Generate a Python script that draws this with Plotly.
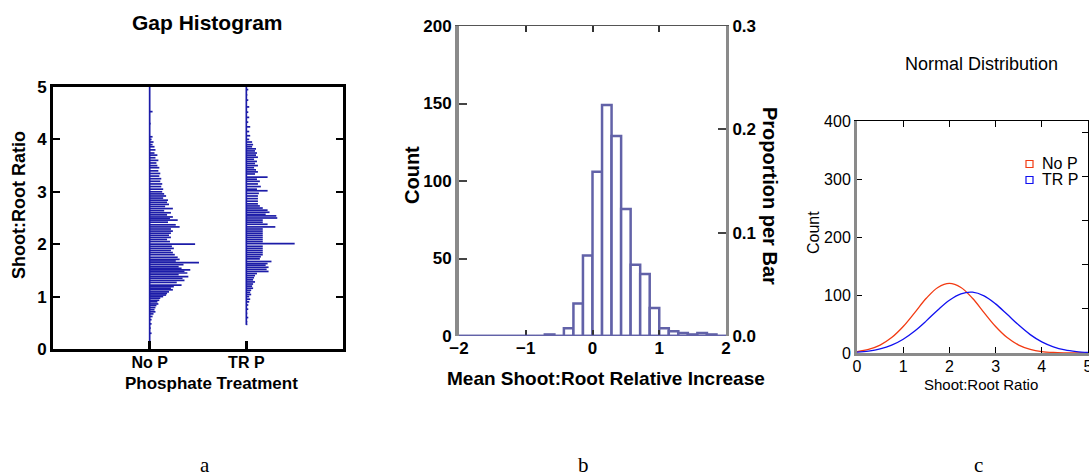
import plotly.graph_objects as go
import numpy as np

W, H = 1089, 476

# ---------------- Panel a: Gap histogram ----------------
groups = ["No P", "TR P"]
group_pos = [1, 2]
spine_lo = [0.10, 0.46]
spine_hi = [5.0, 5.0]

nop_y = [4.53, 4.30, 4.05, 4.00, 3.95, 3.90, 3.86, 3.80, 3.74, 3.70, 3.65, 3.60, 3.55, 3.50,
         3.46, 3.40, 3.35, 3.30, 3.25, 3.20, 3.15, 3.10, 3.05, 3.00, 2.96, 2.92, 2.88, 2.84,
         2.80, 2.76, 2.72, 2.68, 2.64, 2.60, 2.56, 2.52, 2.49, 2.46, 2.42, 2.37, 2.33, 2.29,
         2.25, 2.21, 2.17, 2.13, 2.09, 2.05, 2.00, 1.96, 1.92, 1.88, 1.84, 1.80, 1.75, 1.71,
         1.68, 1.65, 1.61, 1.57, 1.54, 1.51, 1.48, 1.45, 1.42, 1.38, 1.35, 1.31, 1.27, 1.22,
         1.19, 1.16, 1.13, 1.09, 1.06, 1.03, 1.00, 0.97, 0.93, 0.90, 0.86, 0.83, 0.79, 0.75,
         0.71, 0.67, 0.62, 0.56, 0.48, 0.40, 0.30, 0.12]
nop_len = [0.03, 0.01, 0.03, 0.02, 0.04, 0.03, 0.05, 0.06, 0.05, 0.08, 0.06, 0.09, 0.07, 0.08,
           0.10, 0.09, 0.11, 0.10, 0.12, 0.11, 0.13, 0.12, 0.14, 0.13, 0.15, 0.17, 0.14, 0.19,
           0.18, 0.20, 0.16, 0.24, 0.15, 0.22, 0.18, 0.24, 0.21, 0.29, 0.19, 0.27, 0.31, 0.22,
           0.24, 0.22, 0.20, 0.22, 0.18, 0.21, 0.47, 0.23, 0.25, 0.22, 0.24, 0.26, 0.29, 0.31,
           0.27, 0.51, 0.35, 0.30, 0.33, 0.42, 0.36, 0.39, 0.30, 0.40, 0.34, 0.36, 0.28, 0.33,
           0.25, 0.22, 0.24, 0.20, 0.18, 0.17, 0.14, 0.11, 0.10, 0.08, 0.09, 0.07, 0.06, 0.05,
           0.06, 0.04, 0.03, 0.02, 0.02, 0.01, 0.02, 0.01]

trp_y = [4.95, 4.85, 4.75, 4.62, 4.52, 4.42, 4.33, 4.24, 4.15, 4.07, 4.00, 3.95, 3.90, 3.86,
         3.82, 3.78, 3.74, 3.70, 3.66, 3.62, 3.58, 3.54, 3.50, 3.46, 3.42, 3.38, 3.34, 3.28,
         3.24, 3.20, 3.15, 3.10, 3.05, 3.02, 2.97, 2.92, 2.87, 2.82, 2.77, 2.73, 2.69, 2.65,
         2.61, 2.57, 2.54, 2.50, 2.46, 2.42, 2.38, 2.33, 2.29, 2.25, 2.21, 2.17, 2.13, 2.09,
         2.05, 2.01, 1.96, 1.92, 1.88, 1.84, 1.80, 1.76, 1.72, 1.67, 1.63, 1.60, 1.56, 1.52,
         1.48, 1.44, 1.40, 1.36, 1.32, 1.28, 1.24, 1.20, 1.16, 1.12, 1.08, 1.04, 1.00, 0.95,
         0.90, 0.84, 0.76, 0.68, 0.60, 0.52, 0.47]
trp_len = [0.02, 0.01, 0.02, 0.03, 0.02, 0.03, 0.02, 0.04, 0.03, 0.04, 0.03, 0.06, 0.07, 0.06,
           0.10, 0.09, 0.11, 0.10, 0.12, 0.08, 0.11, 0.09, 0.12, 0.08, 0.10, 0.12, 0.09, 0.22,
           0.11, 0.14, 0.12, 0.15, 0.11, 0.22, 0.13, 0.12, 0.12, 0.12, 0.12, 0.14, 0.17, 0.22,
           0.24, 0.20, 0.31, 0.32, 0.17, 0.17, 0.22, 0.30, 0.17, 0.17, 0.17, 0.17, 0.17, 0.17,
           0.17, 0.50, 0.17, 0.17, 0.17, 0.17, 0.17, 0.15, 0.14, 0.26, 0.22, 0.20, 0.23, 0.21,
           0.23, 0.11, 0.09, 0.08, 0.07, 0.09, 0.07, 0.06, 0.07, 0.05, 0.04, 0.05, 0.03, 0.04,
           0.03, 0.02, 0.02, 0.01, 0.02, 0.01, 0.01]

# ---------------- Panel b: histogram ----------------
bin_start = -2.0
bin_width = 1 / 7
counts = [0, 0, 0, 0, 0, 0, 0, 0, 0, 1, 0, 5, 21, 52, 106, 149, 129, 82, 46, 40, 18, 5, 3, 2, 1, 2, 1, 0]
count_ticks = [0, 50, 100, 150, 200]
prop_ticks = [0.0, 0.1, 0.2, 0.3]
prop_labels = ["0.0", "0.1", "0.2", "0.3"]
b_xticks = [-2, -1, 0, 1, 2]

# ---------------- Panel c: normal curves ----------------
curve_x = [0, 0.25, 0.5, 0.75, 1.0, 1.25, 1.5, 1.75, 2.0, 2.25, 2.5, 2.75, 3.0, 3.25, 3.5,
           3.75, 4.0, 4.25, 4.5, 4.75, 5.0]
nop_curve = [2.5, 6.3, 13.7, 26.6, 45.7, 69.7, 94.3, 113, 120, 113, 94.3, 69.7, 45.7, 26.6,
             13.7, 6.3, 2.5, 0.9, 0.3, 0.1, 0.0]
trp_curve = [1.5, 3.4, 7.1, 13.5, 23.7, 37.9, 55.4, 74.2, 91.0, 102.1, 104.8, 98.5, 84.7, 66.7,
             48.1, 31.7, 19.1, 10.6, 5.3, 2.5, 1.0]
c_legend = ["No P", "TR P"]
c_colors = ["#f23a12", "#1010f0"]

panel_letters = ["a", "b", "c"]

# ---------------- helpers ----------------
def px(x):
    return x / W

def py(y):
    return 1 - y / H

BOLD = dict(family="Liberation Sans, Arial, sans-serif", color="black", weight="bold")
REG = dict(family="Liberation Sans, Arial, sans-serif", color="black")
BLUE_A = "#1c1ca8"
BAR_C = "#6262a8"
GRAY = "#8a8a8a"

fig = go.Figure()

# Panel a traces
for pos, ys, lens, lo, hi in zip(group_pos, [nop_y, trp_y], [nop_len, trp_len], spine_lo, spine_hi):
    xs, yy = [pos, pos, None], [lo, hi, None]
    for y, l in zip(ys, lens):
        xs += [pos, pos + l, None]
        yy += [y, y, None]
    fig.add_trace(go.Scatter(x=xs, y=yy, mode="lines", line=dict(color=BLUE_A, width=1.7),
                             xaxis="x", yaxis="y", showlegend=False, hoverinfo="skip"))

# Panel b traces
edges = bin_start + bin_width * np.arange(len(counts))
centers = edges + bin_width / 2
fig.add_trace(go.Bar(x=centers, y=counts, width=bin_width, xaxis="x2", yaxis="y2",
                     marker=dict(color="white", line=dict(color=BAR_C, width=2.5)),
                     showlegend=False))
fig.add_trace(go.Scatter(x=[None], y=[None], xaxis="x2", yaxis="y5", showlegend=False))
fig.add_trace(go.Scatter(x=[None], y=[None], xaxis="x5", yaxis="y2", showlegend=False))

# Panel c traces
for vals, col in zip([nop_curve, trp_curve], c_colors):
    fig.add_trace(go.Scatter(x=curve_x, y=vals, mode="lines", line=dict(color=col, width=1.3, shape="spline"),
                             xaxis="x3", yaxis="y3", showlegend=False))
fig.add_trace(go.Scatter(x=[None], y=[None], xaxis="x3", yaxis="y6", showlegend=False))
fig.add_trace(go.Scatter(x=[None], y=[None], xaxis="x6", yaxis="y3", showlegend=False))

dom_a_x = [px(53), px(343)]
dom_a_y = [py(349), py(87)]
dom_b_x = [px(459), px(726)]
dom_b_y = [py(336), py(26)]
dom_c_x = [px(857), px(1088)]
dom_c_y = [py(353), py(121)]

common = dict(showgrid=False, zeroline=False, automargin=False)

fig.update_layout(
    width=W, height=H, margin=dict(l=0, r=0, t=0, b=0, pad=0), autosize=False,
    paper_bgcolor="white", plot_bgcolor="white", showlegend=False,
    # panel a
    xaxis=dict(domain=dom_a_x, anchor="y", range=[0, 3], tickvals=group_pos, ticktext=groups,
               showline=True, linecolor="black", linewidth=3, mirror=True,
               ticks="inside", ticklen=8, tickwidth=3, tickcolor="black", ticklabelstandoff=-3,
               tickfont=dict(size=16, **BOLD), **common),
    yaxis=dict(domain=dom_a_y, anchor="x", range=[0, 5], tickvals=[0, 1, 2, 3, 4, 5],
               showline=True, linecolor="black", linewidth=3, mirror="allticks",
               ticks="inside", ticklen=7, tickwidth=2, tickcolor="black",
               tickfont=dict(size=17, **BOLD), **common),
    # panel b
    xaxis2=dict(domain=dom_b_x, anchor="y2", range=[-2, 2], tickvals=b_xticks,
                showline=False, ticks="inside", ticklen=6, tickwidth=2, tickcolor="#333",
                tickfont=dict(size=17, **BOLD), **common),
    yaxis2=dict(domain=dom_b_y, anchor="x2", range=[0, 200], tickvals=count_ticks,
                showline=True, linecolor=GRAY, linewidth=4, ticks="inside", ticklen=8,
                tickwidth=1.5, tickcolor="#444", tickfont=dict(size=17, **BOLD), **common),
    xaxis5=dict(overlaying="x2", anchor="y2", side="top", range=[-2, 2], tickvals=[-1, 0, 1],
                showline=True, linecolor="#555", linewidth=1, ticks="inside", ticklen=6,
                tickwidth=2, tickcolor="#333", showticklabels=False, **common),
    yaxis5=dict(overlaying="y2", anchor="x2", side="right", range=[0, 0.3], tickvals=prop_ticks,
                ticktext=prop_labels, showline=True, linecolor=GRAY, linewidth=3,
                ticks="inside", ticklen=8, tickwidth=1.5, tickcolor="#444",
                tickfont=dict(size=17, **BOLD), **common),
    # panel c
    xaxis3=dict(domain=dom_c_x, anchor="y3", range=[0, 5], tickvals=[0, 1, 2, 3, 4, 5],
                showline=True, linecolor=GRAY, linewidth=3, ticks="inside", ticklen=6,
                tickwidth=1, tickcolor="black", ticklabeloverflow="allow", ticklabelstandoff=-3,
                tickfont=dict(size=16, **REG), **common),
    yaxis3=dict(domain=dom_c_y, anchor="x3", range=[0, 400], tickvals=[0, 100, 200, 300, 400],
                showline=True, linecolor=GRAY, linewidth=3, ticks="inside", ticklen=5,
                tickwidth=1, tickcolor="black", tickfont=dict(size=16, **REG), **common),
    xaxis6=dict(overlaying="x3", anchor="y3", side="top", range=[0, 5], tickvals=[1, 2, 3, 4],
                showline=True, linecolor="black", linewidth=1, ticks="inside", ticklen=6,
                tickwidth=1, tickcolor="black", showticklabels=False, **common),
    yaxis6=dict(overlaying="y3", anchor="x3", side="right", range=[0, 5.25], tickvals=[1, 2, 3, 4, 5],
                showline=True, linecolor="black", linewidth=1, ticks="inside", ticklen=6,
                tickwidth=1, tickcolor="black", showticklabels=False, **common),
)

shapes = [
    # histogram baseline
    dict(type="line", xref="x2", yref="y2", x0=-2, x1=2, y0=0, y1=0,
         line=dict(color=BAR_C, width=2.5), layer="above"),
]
# legend squares for panel c
for i, col in enumerate(c_colors):
    cy = 164 + 16 * i
    shapes.append(dict(type="rect", xref="paper", yref="paper",
                       x0=px(1026), x1=px(1033), y0=py(cy + 3.5), y1=py(cy - 3.5),
                       line=dict(color=col, width=1.2), fillcolor="rgba(0,0,0,0)"))
fig.update_layout(shapes=shapes)

ann = []
def A(text, x, y, size, font, angle=0, xanchor="center"):
    ann.append(dict(text=text, x=px(x), y=py(y), xref="paper", yref="paper", showarrow=False,
                    xanchor=xanchor, yanchor="middle", textangle=angle,
                    font=dict(size=size, **font)))

# panel a texts
A("Gap Histogram", 207, 22, 21, BOLD)
A("Phosphate Treatment", 212, 383, 17, BOLD)
A("Shoot:Root Ratio", 19, 205, 18, BOLD, angle=-90)
# panel b texts
A("Mean Shoot:Root Relative Increase", 606, 378, 19, BOLD)
A("Count", 412, 175, 20, BOLD, angle=-90)
A("Proportion per Bar", 770, 196, 20, BOLD, angle=90)
# panel c texts
A("Normal Distribution", 981, 64, 18, REG)
A("Count", 813, 233, 16, REG, angle=-90)
A("Shoot:Root Ratio", 981, 384, 15, REG)
for i, name in enumerate(c_legend):
    A(name, 1040, 163 + 16 * i, 16, REG, xanchor="left")
# panel letters
SERIF = dict(family="Liberation Serif, Times New Roman, serif", color="black")
for letter, x in zip(panel_letters, [205, 583, 978]):
    A(letter, x, 465, 21, SERIF)

fig.update_layout(annotations=ann)

fig.write_html(
    "out.html",
    post_script="document.body.style.margin='0px';document.body.style.padding='0px';"
                "document.body.style.overflow='hidden';",
)
